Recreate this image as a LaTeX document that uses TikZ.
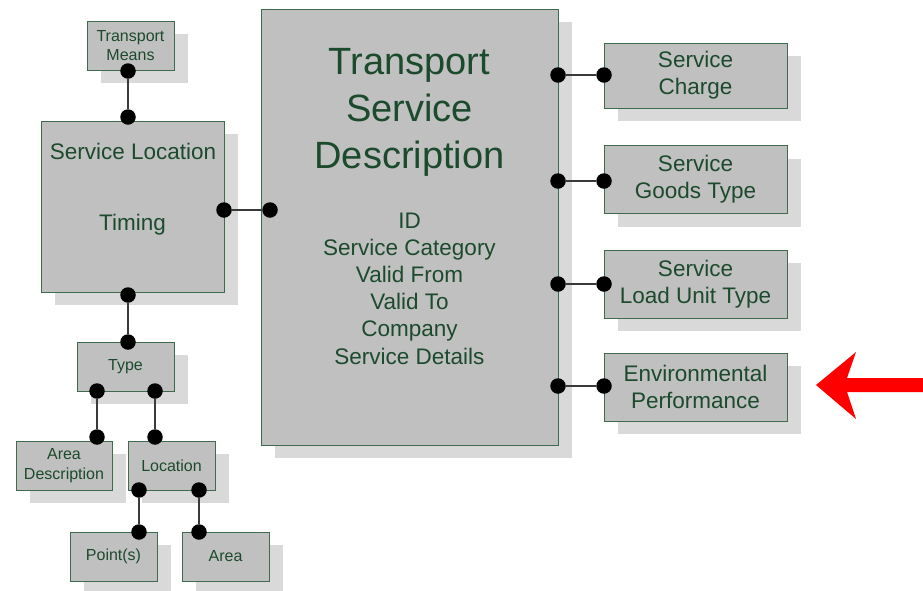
\documentclass[tikz,border=0pt]{standalone}
\usepackage{fontspec}
\setmainfont{Liberation Sans}
\usetikzlibrary{shadows}
\definecolor{boxfill}{HTML}{C0C0C0}
\definecolor{boxline}{HTML}{3E6B4E}
\definecolor{txt}{HTML}{1C4A2C}
\definecolor{shadowc}{HTML}{D9D9D9}
\definecolor{linec}{HTML}{3A3A3A}
\definecolor{arrowred}{HTML}{FF0000}
\begin{document}
\begin{tikzpicture}[x=1pt,y=-1pt,
  box/.style={draw=boxline, line width=1pt, fill=boxfill, text=txt, align=center,
    inner sep=0pt, outer sep=0pt,
    drop shadow={shadow xshift=14pt, shadow yshift=-13pt, fill=shadowc, opacity=1}},
  small/.style={font=\fontsize{16}{19.5}\selectfont},
  mid/.style={font=\fontsize{22.5}{27}\selectfont},
  big/.style={font=\fontsize{38}{47}\selectfont},
  lbl/.style={text=txt, inner sep=0pt, anchor=base},
  dot/.style={circle, fill=black, inner sep=0pt, minimum size=15.5pt},
  conn/.style={draw=linec, line width=1.3pt}]
\fill[white] (0,0) rectangle (923,590);
\useasboundingbox (0,0) rectangle (923,590);

% boxes
\node[box, small, minimum width=87pt, minimum height=49pt] (tm) at (130.5,45.5) {Transport\\Means};
\node[box, minimum width=183pt, minimum height=171pt] (sl) at (132.5,206.5) {};
\node[box, minimum width=297pt, minimum height=436pt] (tsd) at (409.5,227) {};
\node[box, mid, minimum width=183pt, minimum height=65pt] (sc) at (695.5,75.5) {Service\\Charge};
\node[box, mid, minimum width=183pt, minimum height=68pt] (sg) at (695.5,179.5) {Service\\Goods Type};
\node[box, mid, minimum width=183pt, minimum height=68pt] (slu) at (695.5,284) {Service\\Load Unit Type};
\node[box, mid, minimum width=183pt, minimum height=68pt] (ep) at (695.5,387) {Environmental\\Performance};
\node[box, small, minimum width=97pt, minimum height=49pt] (ty) at (125.5,366.5) {Type};
\node[box, small, minimum width=96pt, minimum height=49pt] (ad) at (64,465.5) {Area\\Description};
\node[box, small, minimum width=87pt, minimum height=49pt] (loc) at (171.5,465.5) {Location};
\node[box, small, minimum width=87pt, minimum height=49pt] (pt) at (113.5,556.5) {Point(s)};
\node[box, small, minimum width=87pt, minimum height=49pt] (ar) at (225.5,556.5) {Area};

% texts inside large boxes
\node[lbl, mid] (slt1) at (133,159) {Service Location};
\node[lbl, mid] (slt2) at (132.5,230) {Timing};
\node[lbl, big] (t1) at (409.5,74) {Transport};
\node[lbl, big] (t2) at (409.5,121) {Service};
\node[lbl, big] (t3) at (409.5,168) {Description};
\foreach \t [count=\i] in {ID,Service Category,Valid From,Valid To,Company,Service Details}
  \node[lbl, mid] (a\i) at (409.5,{228+27.2*(\i-1)}) {\t};

% connector dots
\node[dot] (d1) at (128,71) {};
\node[dot] (d2) at (128,117) {};
\node[dot] (d3) at (224,210) {};
\node[dot] (d4) at (270,210) {};
\node[dot] (d5) at (128,295) {};
\node[dot] (d6) at (128,342) {};
\node[dot] (d7) at (97,391) {};
\node[dot] (d8) at (97,437) {};
\node[dot] (d9) at (155,391) {};
\node[dot] (d10) at (155,437) {};
\node[dot] (d11) at (139,490) {};
\node[dot] (d12) at (139,532) {};
\node[dot] (d13) at (199,490) {};
\node[dot] (d14) at (199,532) {};
\foreach \y [count=\i] in {75,181,284,386} {
  \node[dot] (r\i) at (558,\y) {};
  \node[dot] (s\i) at (604,\y) {};
}
\draw[conn] (d1) -- (d2);
\draw[conn] (d3) -- (d4);
\draw[conn] (d5) -- (d6);
\draw[conn] (d7) -- (d8);
\draw[conn] (d9) -- (d10);
\draw[conn] (d11) -- (d12);
\draw[conn] (d13) -- (d14);
\foreach \i in {1,...,4} \draw[conn] (r\i) -- (s\i);

% red arrow
\fill[arrowred] (816,385) -- (856,352) -- (847,378) -- (923,378) -- (923,392)
  -- (847,392) -- (856,419) -- cycle;
\end{tikzpicture}
\end{document}
